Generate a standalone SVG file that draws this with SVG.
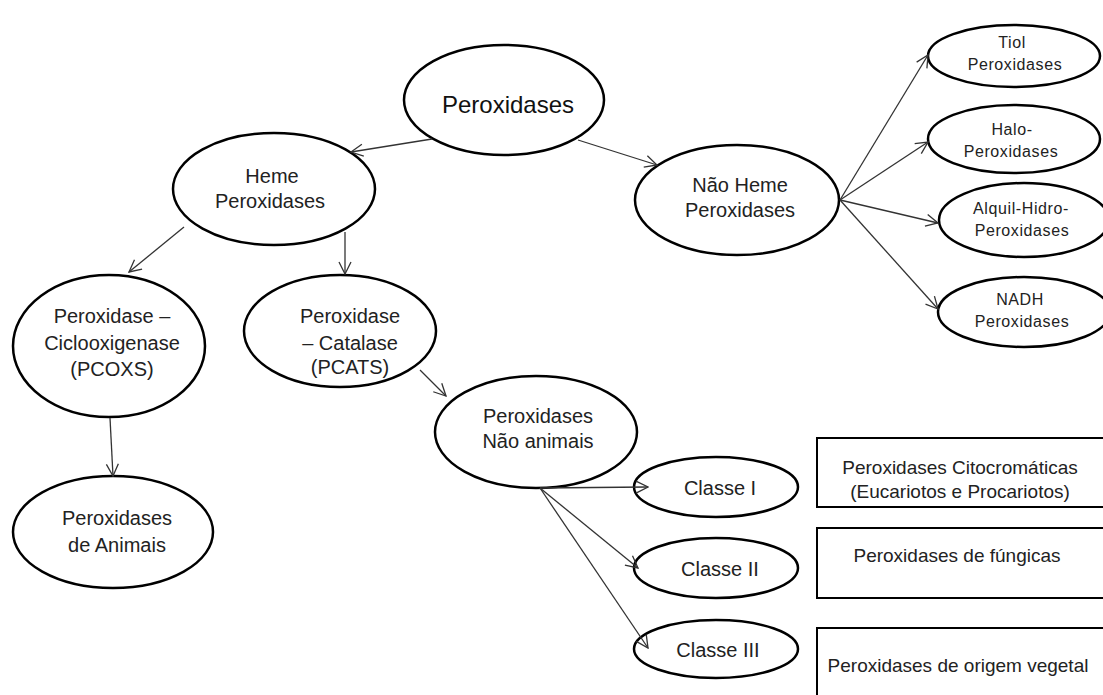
<svg xmlns="http://www.w3.org/2000/svg" width="1103" height="695" viewBox="0 0 1103 695">
<style>
.node ellipse{fill:#fff;stroke:#000;stroke-width:2.5}
.box rect{fill:#fff;stroke:#000;stroke-width:2}
text{font-family:"Liberation Sans",Arial,sans-serif;fill:#222;text-anchor:middle}
.t20{font-size:20px}
.t16{font-size:16px;letter-spacing:0.6px}
.t19{font-size:19px}
.conn line{stroke:#333;stroke-width:1.3;marker-end:url(#arr)}
</style>
<defs>
<marker id="arr" markerUnits="userSpaceOnUse" markerWidth="14" markerHeight="14" refX="13" refY="7" orient="auto">
<path d="M1,1 L13,7 L1,13" fill="none" stroke="#333" stroke-width="1.3"/>
</marker>
</defs>
<rect width="1103" height="695" fill="#fff"/>
<g id="n-peroxidases" class="node">
<ellipse cx="504" cy="100" rx="100" ry="55"/>
<text x="508" y="113" style="font-size:24px;fill:#111">Peroxidases</text>
</g>
<g id="n-heme" class="node">
<ellipse cx="274" cy="189" rx="101" ry="56"/>
<text class="t20" x="272" y="183">Heme</text>
<text class="t20" x="270" y="208">Peroxidases</text>
</g>
<g id="n-naoheme" class="node">
<ellipse cx="737" cy="200" rx="102" ry="55"/>
<text class="t20" x="740" y="192">Não Heme</text>
<text class="t20" x="740" y="217">Peroxidases</text>
</g>
<g id="n-tiol" class="node">
<ellipse cx="1014" cy="56" rx="86" ry="31"/>
<text class="t16" x="1012" y="48">Tiol</text>
<text class="t16" x="1015" y="70">Peroxidases</text>
</g>
<g id="n-halo" class="node">
<ellipse cx="1014" cy="139" rx="86" ry="34"/>
<text class="t16" x="1012" y="135">Halo-</text>
<text class="t16" x="1011" y="157">Peroxidases</text>
</g>
<g id="n-alquil" class="node">
<ellipse cx="1024" cy="220" rx="85" ry="37"/>
<text class="t16" x="1021" y="214">Alquil-Hidro-</text>
<text class="t16" x="1022" y="236">Peroxidases</text>
</g>
<g id="n-nadh" class="node">
<ellipse cx="1024" cy="312" rx="86" ry="35"/>
<text class="t16" x="1020" y="305">NADH</text>
<text class="t16" x="1022" y="327">Peroxidases</text>
</g>
<g id="n-pcoxs" class="node">
<ellipse cx="109" cy="346" rx="96" ry="71"/>
<text class="t20" x="112" y="323">Peroxidase –</text>
<text class="t20" x="112" y="350">Ciclooxigenase</text>
<text class="t20" x="112" y="376">(PCOXS)</text>
</g>
<g id="n-pcats" class="node">
<ellipse cx="340" cy="331" rx="96" ry="56"/>
<text class="t20" x="350" y="323">Peroxidase</text>
<text class="t20" x="350" y="350">– Catalase</text>
<text class="t20" x="350" y="374">(PCATS)</text>
</g>
<g id="n-animais" class="node">
<ellipse cx="113" cy="532" rx="100" ry="56"/>
<text class="t20" x="117" y="525">Peroxidases</text>
<text class="t20" x="117" y="552">de Animais</text>
</g>
<g id="n-naoanimais" class="node">
<ellipse cx="536" cy="432" rx="101" ry="56"/>
<text class="t20" x="538" y="423">Peroxidases</text>
<text class="t20" x="538" y="448">Não animais</text>
</g>
<g id="n-classe1" class="node">
<ellipse cx="716" cy="487" rx="82" ry="30"/>
<text class="t20" x="720" y="495">Classe I</text>
</g>
<g id="n-classe2" class="node">
<ellipse cx="716" cy="568" rx="82" ry="30"/>
<text class="t20" x="720" y="576">Classe II</text>
</g>
<g id="n-classe3" class="node">
<ellipse cx="716" cy="649" rx="82" ry="29"/>
<text class="t20" x="718" y="657">Classe III</text>
</g>
<g id="b-citocromaticas" class="box">
<rect x="817" y="438" width="300" height="69"/>
<text class="t19" x="960" y="474">Peroxidases Citocromáticas</text>
<text class="t19" x="960" y="498">(Eucariotos e Procariotos)</text>
</g>
<g id="b-fungicas" class="box">
<rect x="817" y="528" width="300" height="70"/>
<text class="t19" x="957" y="562">Peroxidases de fúngicas</text>
</g>
<g id="b-vegetal" class="box">
<rect x="817" y="628" width="300" height="80"/>
<text class="t19" x="958" y="672">Peroxidases de origem vegetal</text>
</g>
<g id="connectors" class="conn">
<line x1="432" y1="139" x2="351" y2="152"/>
<line x1="578" y1="140" x2="657" y2="165"/>
<line x1="184" y1="227" x2="129" y2="272"/>
<line x1="345" y1="232" x2="345" y2="274"/>
<line x1="110" y1="418" x2="113" y2="476"/>
<line x1="420" y1="370" x2="446" y2="396"/>
<line x1="840" y1="200" x2="928" y2="55"/>
<line x1="840" y1="200" x2="928" y2="142"/>
<line x1="840" y1="200" x2="938" y2="223"/>
<line x1="840" y1="200" x2="938" y2="309"/>
<line x1="540" y1="488" x2="648" y2="487"/>
<line x1="540" y1="488" x2="638" y2="568"/>
<line x1="540" y1="488" x2="648" y2="648"/>
</g>
</svg>
